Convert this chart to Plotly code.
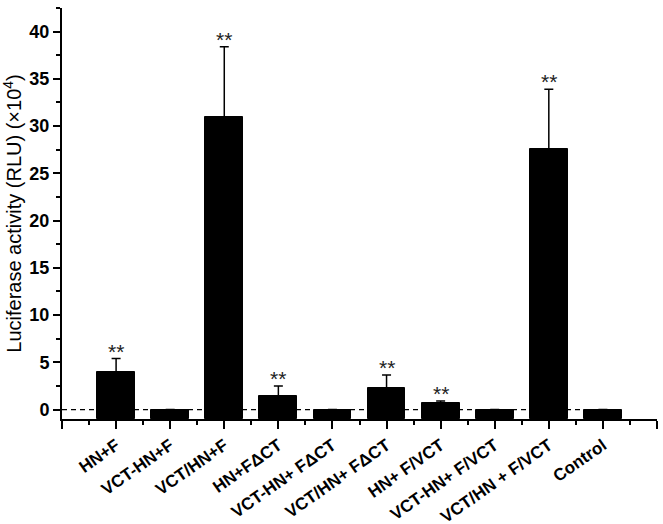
import plotly.graph_objects as go

# %% data (x 10^4 RLU)
categories = ["HN+F", "VCT-HN+F", "VCT/HN+F", "HN+FΔCT", "VCT-HN+ FΔCT",
              "VCT/HN+ FΔCT", "HN+ F/VCT", "VCT-HN+ F/VCT", "VCT/HN + F/VCT", "Control"]
activity = [4.0, 0.0, 31.0, 1.4, 0.0, 2.3, 0.7, 0.0, 27.6, 0.0]
sd = [1.4, 0.0, 7.4, 1.1, 0.0, 1.35, 0.2, 0.0, 6.3, 0.0]
signif = ["**", "", "**", "**", "", "**", "**", "", "**", ""]

y_floor = -1
font = "Arial, 'Liberation Sans', sans-serif"
xpos = list(range(len(categories)))

# %% plot
fig = go.Figure()
fig.add_trace(go.Bar(
    x=xpos, y=[v - y_floor for v in activity], base=y_floor, width=0.7,
    marker=dict(color="black", line=dict(color="black", width=1)),
    error_y=dict(type="data", symmetric=False, array=sd, arrayminus=[0] * len(sd),
                 color="black", thickness=1.5, width=4.5),
    showlegend=False,
))

# dashed zero line behind the bars
fig.add_shape(type="line", xref="x", yref="y", x0=-1, x1=xpos[-1], y0=0, y1=0,
              line=dict(color="black", width=1.3, dash="5px,4px"), layer="below")

for i, s in enumerate(signif):
    if s:
        fig.add_annotation(x=xpos[i], y=activity[i] + sd[i], text=s, showarrow=False,
                           yanchor="bottom", yshift=-6,
                           font=dict(family=font, size=21, color="#222"))

fig.update_layout(
    width=663, height=524, autosize=False,
    margin=dict(l=62, r=6, t=8, b=105),
    plot_bgcolor="white", paper_bgcolor="white",
    font=dict(family=font, color="black"),
    bargap=0,
)
fig.update_xaxes(
    range=[-1, len(categories)], automargin=False,
    tickmode="array", tickvals=list(range(-1, len(categories) + 1)),
    ticktext=[""] + categories + [""], tickangle=-35,
    tickfont=dict(family=font, size=17, color="black", weight="bold"),
    showline=True, linecolor="black", linewidth=2, mirror=False,
    ticks="outside", ticklen=8, tickwidth=2, tickcolor="black",
    minor=dict(tickmode="linear", tick0=-0.5, dtick=1, ticks="outside",
               ticklen=4, tickwidth=2, tickcolor="black"),
    showgrid=False, zeroline=False,
)
fig.update_yaxes(
    range=[y_floor, 42.5], automargin=False,
    tick0=0, dtick=5,
    tickfont=dict(family=font, size=18, color="black", weight="bold"),
    showline=True, linecolor="black", linewidth=2,
    ticks="outside", ticklen=7, tickwidth=2, tickcolor="black",
    minor=dict(tick0=0, dtick=2.5, ticks="outside", ticklen=4, tickwidth=2, tickcolor="black"),
    showgrid=False, zeroline=False,
    title=dict(text="Luciferase activity (RLU) (×10<sup>4</sup>)",
               font=dict(family=font, size=20, color="black"), standoff=5),
)

# page body has a default 8px margin; drop it so the figure fills the window
fig.write_html("out.html", config={"displayModeBar": False},
               post_script="document.body.style.margin='0';")
